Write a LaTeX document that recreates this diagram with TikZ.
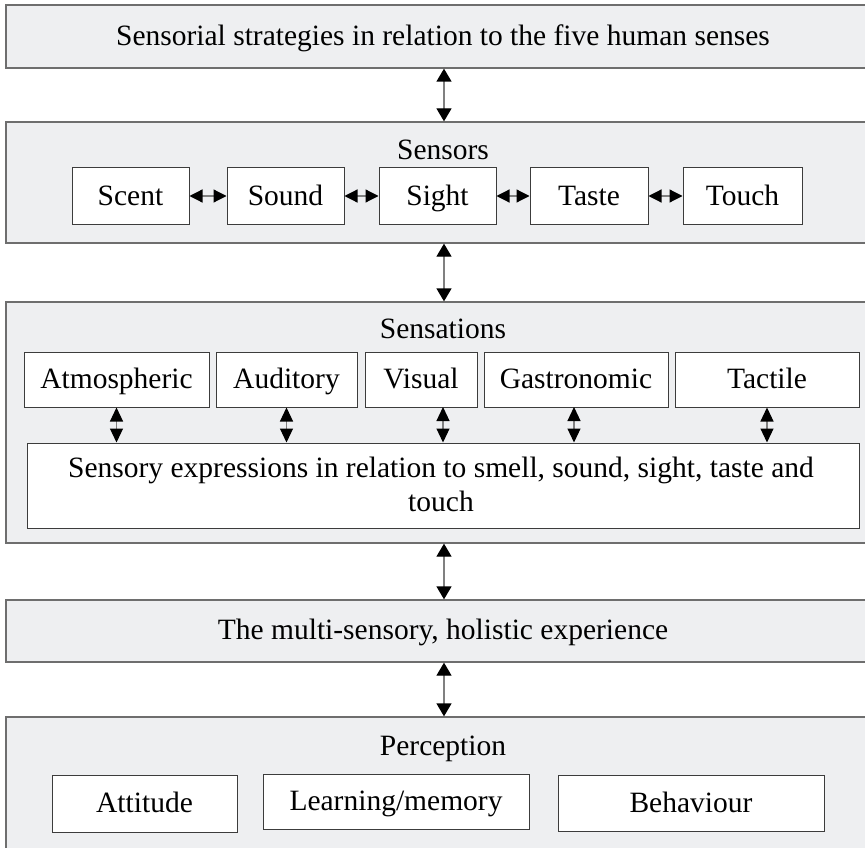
\documentclass[tikz,border=0pt]{standalone}
\usepackage{fontspec}
\setmainfont{Liberation Serif}
\usetikzlibrary{arrows.meta}
\definecolor{outfill}{HTML}{EEEFF1}
\definecolor{outline}{HTML}{6E6E6E}
\definecolor{inline}{HTML}{3C3C3C}
\definecolor{shaft}{HTML}{808080}
\begin{document}
\begin{tikzpicture}[x=1pt,y=-1pt,
  every node/.style={font=\fontsize{29.5}{34}\selectfont, text=black, text height=24pt, text depth=6pt},
  outer/.style={draw=outline, fill=outfill, line width=1.3pt, inner sep=0pt, text height=, text depth=},
  inner/.style={draw=inline, fill=white, line width=1pt, inner sep=0pt},
  lbl/.style={inner sep=0pt},
  bigarr/.style={draw=shaft, line width=1.3pt, {Triangle[width=15pt,length=13pt,color=black]}-{Triangle[width=15pt,length=13pt,color=black]}},
  smallarr/.style={draw=shaft, line width=1.2pt, {Triangle[width=13pt,length=14pt,color=black]}-{Triangle[width=13pt,length=14pt,color=black]}},
  harr/.style={draw=shaft, line width=1.2pt, {Triangle[width=13pt,length=13pt,color=black]}-{Triangle[width=13pt,length=13pt,color=black]}}
]
\useasboundingbox (0,0) rectangle (865,848);
\clip (0,0) rectangle (865,848);
\fill[white] (0,0) rectangle (865,848);

% outer boxes
\node[outer, minimum width=874pt, minimum height=63pt] (b1) at (443,36.5) {};
\node[lbl] (title) at (443,36.5) {Sensorial strategies in relation to the five human senses};

\node[outer, minimum width=874pt, minimum height=121pt] (b2) at (443,182.5) {};
\node[lbl] (sensors) at (443,151) {Sensors};

\node[outer, minimum width=874pt, minimum height=241pt] (b3) at (443,422.5) {};
\node[lbl] (sensations) at (443,329) {Sensations};

\node[outer, minimum width=874pt, minimum height=62pt] (b4) at (443,631) {};
\node[lbl] (holistic) at (443,630) {The multi-sensory, holistic experience};

\node[outer, minimum width=874pt, minimum height=170pt] (b5) at (443,802) {};
\node[lbl] (perception) at (443,746) {Perception};

% sensors row
\node[inner, minimum width=117pt, minimum height=56pt] (scent) at (130.5,196) {Scent};
\node[inner, minimum width=117pt, minimum height=56pt] (sound) at (285.5,196) {Sound};
\node[inner, minimum width=117pt, minimum height=56pt] (sight) at (437.5,196) {Sight};
\node[inner, minimum width=118pt, minimum height=56pt] (taste) at (589,196) {Taste};
\node[inner, minimum width=119pt, minimum height=56pt] (touch) at (742.5,196) {Touch};
\draw[harr] (scent) -- (sound);
\draw[harr] (sound) -- (sight);
\draw[harr] (sight) -- (taste);
\draw[harr] (taste) -- (touch);

% sensations row
\node[inner, minimum width=185pt, minimum height=55pt] (atm) at (116.5,379.5) {Atmospheric};
\node[inner, minimum width=141pt, minimum height=55pt] (aud) at (286.5,379.5) {Auditory};
\node[inner, minimum width=112pt, minimum height=55pt] (vis) at (421,379.5) {Visual};
\node[inner, minimum width=184pt, minimum height=55pt] (gas) at (576,379.5) {Gastronomic};
\node[inner, minimum width=184pt, minimum height=55pt] (tac) at (767,379.5) {Tactile};
\node[inner, minimum width=832pt, minimum height=85pt] (expr) at (443,485.5) {};
\node[lbl, align=center, text height=, text depth=] (exprtext) at (441,484)
  {\fontsize{29.5}{34}\selectfont Sensory expressions in relation to smell, sound, sight, taste and\\touch};

\coordinate (va) at (443,407);
\coordinate (ga) at (574,407);
\draw[smallarr] (atm.south) -- (atm.south |- expr.north);
\draw[smallarr] (aud.south) -- (aud.south |- expr.north);
\draw[smallarr] (va) -- (va |- expr.north);
\draw[smallarr] (ga) -- (ga |- expr.north);
\draw[smallarr] (tac.south) -- (tac.south |- expr.north);

% perception row
\node[inner, minimum width=185pt, minimum height=57pt] (att) at (144.5,803.5) {Attitude};
\node[inner, minimum width=266pt, minimum height=55pt] (learn) at (396,801.5) {Learning/memory};
\node[inner, minimum width=266pt, minimum height=56pt] (beh) at (691,803) {Behaviour};

% big arrows
\coordinate (ax) at (444,0);
\draw[bigarr] (ax |- b1.south) -- (ax |- b2.north);
\draw[bigarr] (ax |- b2.south) -- (ax |- b3.north);
\draw[bigarr] (ax |- b3.south) -- (ax |- b4.north);
\draw[bigarr] (ax |- b4.south) -- (ax |- b5.north);
\end{tikzpicture}
\end{document}
